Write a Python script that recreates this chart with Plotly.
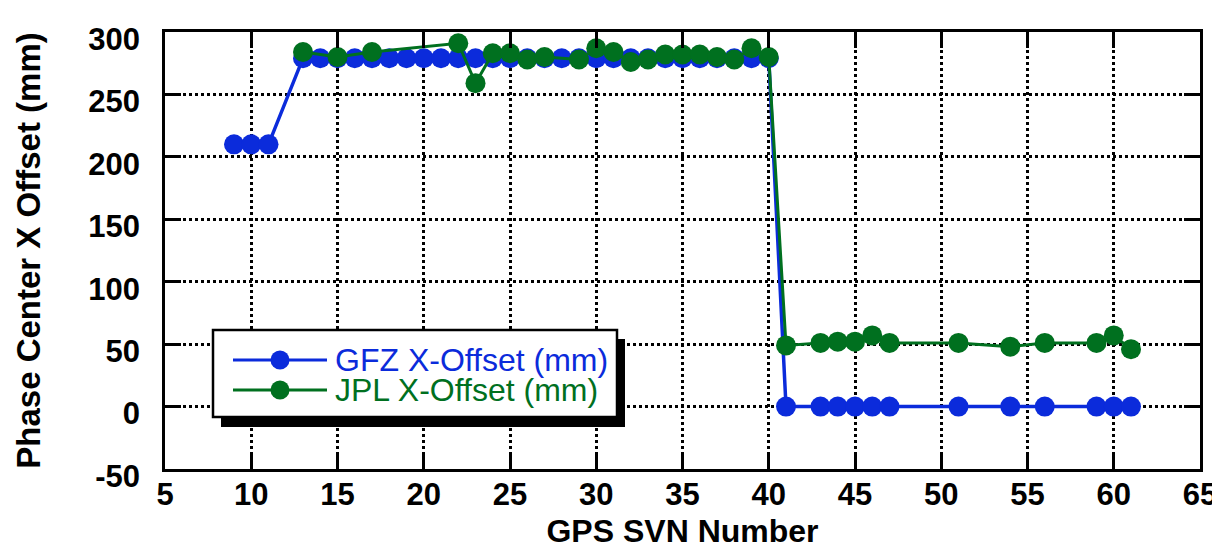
import plotly.graph_objects as go

# ---- data ----
gfz_svn = [9, 10, 11, 13, 14, 15, 16, 17, 18, 19, 20, 21, 22, 23, 24, 25, 26, 27, 28, 29, 30,
           31, 32, 33, 34, 35, 36, 37, 38, 39, 40, 41, 43, 44, 45, 46, 47, 51, 54, 56, 59, 60, 61]
gfz_x = [210, 210, 210] + [279] * 28 + [0] * 12

jpl_svn = [13, 15, 17, 22, 23, 24, 25, 26, 27, 29, 30, 31, 32, 33, 34, 35, 36, 37, 38, 39, 40,
           41, 43, 44, 45, 46, 47, 51, 54, 56, 59, 60, 61]
jpl_x = [284, 280, 284, 291, 259, 283, 283, 278, 280, 278, 287, 284, 276, 278, 282, 282, 282, 280, 278, 287, 280,
         49, 51, 52, 52, 57, 51, 51, 48, 51, 51, 57, 46]

series_names = ["GFZ X-Offset (mm)", "JPL X-Offset (mm)"]
x_title = "GPS SVN Number"
y_title = "Phase Center X Offset (mm)"
x_ticks = list(range(5, 70, 5))
y_ticks = list(range(-50, 350, 50))
y_ticklabels = [str(v) for v in y_ticks]  # plain hyphen for "-50"

BLUE = "#0b2bdb"
GREEN = "#00701f"

fig = go.Figure()
fig.add_trace(go.Scatter(x=gfz_svn, y=gfz_x, mode="lines+markers", name=series_names[0],
                         line=dict(color=BLUE, width=3.5),
                         marker=dict(color=BLUE, size=20, line=dict(width=0)),
                         showlegend=False))
fig.add_trace(go.Scatter(x=jpl_svn, y=jpl_x, mode="lines+markers", name=series_names[1],
                         line=dict(color=GREEN, width=3),
                         marker=dict(color=GREEN, size=20, line=dict(width=0)),
                         showlegend=False))

# page offset of the plot div (default body margin)
OFF = 8
FIG_W, FIG_H = 1220 - OFF, 549 - OFF
# plot-area geometry in page px
L, R, T, B = 165, 1200, 32, 469
W, H = R - L, B - T
def xp(px):
    return (px - L) / W
def yp(py):
    return (B - py) / H

shapes = []
# shadow
shapes.append(dict(type="rect", xref="paper", yref="paper", layer="above",
                   x0=xp(221), x1=xp(625), y0=yp(427), y1=yp(339),
                   fillcolor="black", line=dict(width=0)))
# box
shapes.append(dict(type="rect", xref="paper", yref="paper", layer="above",
                   x0=xp(213), x1=xp(617), y0=yp(417), y1=yp(330),
                   fillcolor="white", line=dict(color="black", width=2.5)))
annotations = []
for i, (col, yy) in enumerate([(BLUE, 360), (GREEN, 390)]):
    shapes.append(dict(type="line", xref="paper", yref="paper", layer="above",
                       x0=xp(233), x1=xp(327), y0=yp(yy), y1=yp(yy),
                       line=dict(color=col, width=3)))
    r = 9.5
    shapes.append(dict(type="circle", xref="paper", yref="paper", layer="above",
                       x0=xp(280 - r), x1=xp(280 + r), y0=yp(yy + r), y1=yp(yy - r),
                       fillcolor=col, line=dict(width=0)))
    annotations.append(dict(xref="paper", yref="paper", x=xp(333), y=yp(yy),
                            xanchor="left", yanchor="middle", showarrow=False,
                            text=series_names[i],
                            font=dict(family="Liberation Sans, Arial", size=32, color=col)))

axis_common = dict(showline=True, linecolor="black", linewidth=2.5, mirror="ticks",
                   ticks="inside", ticklen=16, tickwidth=2.5, tickcolor="black",
                   showgrid=True, gridcolor="black", gridwidth=2.5, griddash="3px,3px",
                   zeroline=False, automargin=False,
                   tickfont=dict(family="Liberation Sans, Arial", size=31, color="black", weight="bold"))

fig.update_layout(
    width=FIG_W, height=FIG_H,
    margin=dict(l=L - OFF, r=FIG_W - (R - OFF), t=T - OFF, b=FIG_H - (B - OFF)),
    paper_bgcolor="white", plot_bgcolor="white",
    shapes=shapes, annotations=annotations,
    xaxis=dict(range=[5, 65], tickvals=x_ticks, ticklabelstandoff=-4,
               title=dict(text=x_title, standoff=16,
                          font=dict(family="Liberation Sans, Arial", size=32, color="black", weight="bold")),
               **axis_common),
    yaxis=dict(range=[-50, 300], tickvals=y_ticks, ticktext=y_ticklabels,
               ticklabelstandoff=16, ticklabelshift=7,
               title=dict(text=y_title, standoff=38,
                          font=dict(family="Liberation Sans, Arial", size=33, color="black", weight="bold")),
               **axis_common),
)

fig.write_html("out.html")
